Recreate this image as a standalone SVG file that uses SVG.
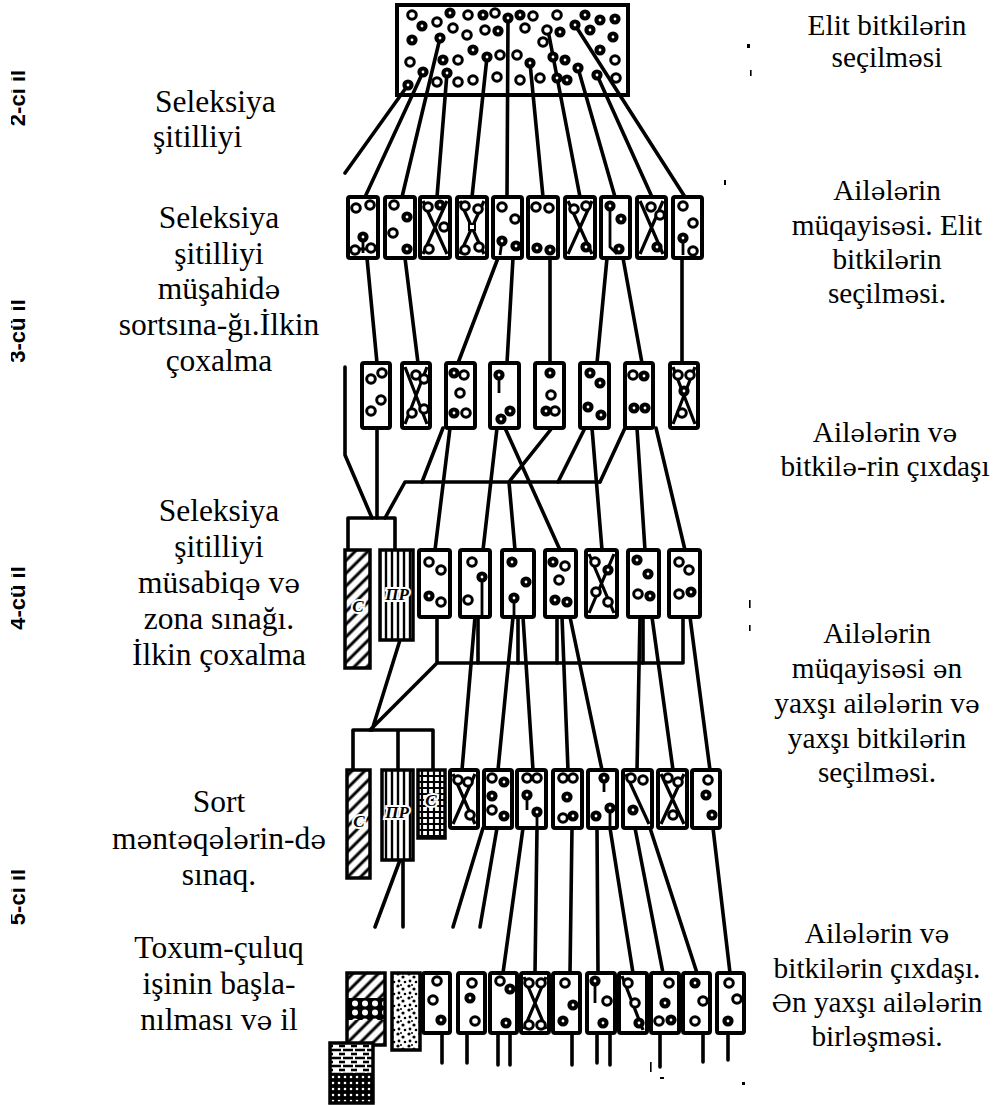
<svg xmlns="http://www.w3.org/2000/svg" width="1001" height="1105" viewBox="0 0 1001 1105">
<defs>
<style>
.ln{fill:none;stroke:#000;stroke-width:3.6;stroke-linecap:round;stroke-linejoin:round}
.bx{fill:#fff;stroke:#000;stroke-width:4}
.sp{stroke:#000;stroke-width:3.5}
.xx{fill:none;stroke:#000;stroke-width:3.2}
.st{fill:none;stroke:#000;stroke-width:2.8}
.tl{font-family:"Liberation Serif","Times New Roman","DejaVu Serif",serif;font-size:31.5px;text-anchor:middle;fill:#000}
.tr{font-family:"Liberation Serif","Times New Roman","DejaVu Serif",serif;font-size:29.3px;text-anchor:middle;fill:#000}
.e{font-family:"DejaVu Serif",serif;font-size:0.85em}
.yr{font-family:"Liberation Sans",Arial,sans-serif;font-size:22px;font-weight:bold;text-anchor:middle;fill:#000}
.mk{font-family:"Liberation Serif","Times New Roman",serif;font-style:italic;font-weight:bold;font-size:17px;text-anchor:middle;fill:#000;stroke:#fff;stroke-width:4;paint-order:stroke}
</style>
<!-- seedling marks -->
<symbol id="o" overflow="visible"><circle r="4.3" fill="#fff" stroke="#000" stroke-width="3"/></symbol>
<symbol id="d" overflow="visible"><circle r="5.6" fill="#000"/><circle r="1.4" fill="#fff"/></symbol>
<!-- fills of the standard / check plots -->
<pattern id="hatch" patternUnits="userSpaceOnUse" width="9" height="9" patternTransform="rotate(45)"><rect width="9" height="9" fill="#fff"/><line x1="2" y1="0" x2="2" y2="9" stroke="#000" stroke-width="3"/></pattern>
<pattern id="vstripe" patternUnits="userSpaceOnUse" width="6" height="6"><rect width="6" height="6" fill="#fff"/><line x1="2" y1="0" x2="2" y2="6" stroke="#000" stroke-width="2.4"/></pattern>
<pattern id="grid" patternUnits="userSpaceOnUse" width="6" height="6"><rect width="6" height="6" fill="#fff"/><path d="M2,0V6M0,2H6" stroke="#000" stroke-width="2.2"/></pattern>
<pattern id="ring" patternUnits="userSpaceOnUse" width="10" height="9"><rect width="10" height="9" fill="#000"/><circle cx="5" cy="4.5" r="3" fill="#fff"/></pattern>
<pattern id="brick" patternUnits="userSpaceOnUse" width="12" height="8"><rect width="12" height="8" fill="#fff"/><path d="M0,2H5M7,2H12M3,6H9" stroke="#000" stroke-width="2.4"/></pattern>
<pattern id="dots" patternUnits="userSpaceOnUse" width="6" height="6"><rect width="6" height="6" fill="#000"/><circle cx="3" cy="3" r="1.3" fill="#fff"/></pattern>
<pattern id="speck" patternUnits="userSpaceOnUse" width="11" height="12"><rect width="11" height="12" fill="#fff"/><circle cx="2" cy="2" r="1.6" fill="#000"/><circle cx="7" cy="5" r="1.6" fill="#000"/><circle cx="3" cy="9" r="1.4" fill="#000"/><circle cx="9" cy="10" r="1.3" fill="#000"/><circle cx="5" cy="1" r="1" fill="#000"/></pattern>
<clipPath id="yearClip"><rect x="11" y="0" width="40" height="1105"/></clipPath>
<clipPath id="lastClip"><rect x="0" y="900" width="340" height="131"/></clipPath>
</defs>
<rect width="1001" height="1105" fill="#fff"/>

<!-- year labels -->
<g id="years" clip-path="url(#yearClip)">
<text class="yr" transform="translate(25,98) rotate(-90)">2-ci il</text>
<text class="yr" transform="translate(25,331) rotate(-90)">3-cü il</text>
<text class="yr" transform="translate(25,598) rotate(-90)">4-cü il</text>
<text class="yr" transform="translate(25,897) rotate(-90)">5-ci il</text>
</g>

<!-- stage names, left column -->
<g id="stage-names">
<text class="tl" x="155" y="112" style="text-anchor:start">Seleksiya</text>
<text class="tl" x="153" y="147" style="text-anchor:start">şitilliyi</text>
<text class="tl" x="219" y="228">Seleksiya</text>
<text class="tl" x="219" y="264">şitilliyi</text>
<text class="tl" x="219" y="299">müşahid<tspan class="e">ə</tspan></text>
<text class="tl" x="219" y="335">sortsına-ğı.İlkin</text>
<text class="tl" x="219" y="371">çoxalma</text>
<text class="tl" x="219" y="521">Seleksiya</text>
<text class="tl" x="219" y="557">şitilliyi</text>
<text class="tl" x="219" y="593">müsabiq<tspan class="e">ə</tspan> v<tspan class="e">ə</tspan></text>
<text class="tl" x="219" y="629">zona sınağı.</text>
<text class="tl" x="219" y="665">İlkin çoxalma</text>
<text class="tl" x="219" y="812">Sort</text>
<text class="tl" x="219" y="849">m<tspan class="e">ə</tspan>nt<tspan class="e">ə</tspan>q<tspan class="e">ə</tspan>l<tspan class="e">ə</tspan>rin-d<tspan class="e">ə</tspan></text>
<text class="tl" x="219" y="885">sınaq.</text>
<g clip-path="url(#lastClip)">
<text class="tl" x="219" y="958">Toxum-çuluq</text>
<text class="tl" x="219" y="994">işinin başla-</text>
<text class="tl" x="219" y="1030">nılması v<tspan class="e">ə</tspan> il</text>
</g>
</g>

<!-- work done, right column -->
<g id="work-notes">
<text class="tr" x="887" y="35">Elit bitkil<tspan class="e">ə</tspan>rin</text>
<text class="tr" x="887" y="67">seçilm<tspan class="e">ə</tspan>si</text>
<text class="tr" x="887" y="200">Ail<tspan class="e">ə</tspan>l<tspan class="e">ə</tspan>rin</text>
<text class="tr" x="887" y="235">müqayis<tspan class="e">ə</tspan>si. Elit</text>
<text class="tr" x="887" y="269">bitkil<tspan class="e">ə</tspan>rin</text>
<text class="tr" x="887" y="303">seçilm<tspan class="e">ə</tspan>si.</text>
<text class="tr" x="885" y="442">Ail<tspan class="e">ə</tspan>l<tspan class="e">ə</tspan>rin v<tspan class="e">ə</tspan></text>
<text class="tr" x="885" y="476">bitkil<tspan class="e">ə</tspan>-rin çıxdaşı</text>
<text class="tr" x="877" y="643">Ail<tspan class="e">ə</tspan>l<tspan class="e">ə</tspan>rin</text>
<text class="tr" x="877" y="678">müqayis<tspan class="e">ə</tspan>si <tspan class="e">ə</tspan>n</text>
<text class="tr" x="877" y="713">yaxşı ail<tspan class="e">ə</tspan>l<tspan class="e">ə</tspan>rin v<tspan class="e">ə</tspan></text>
<text class="tr" x="877" y="748">yaxşı bitkil<tspan class="e">ə</tspan>rin</text>
<text class="tr" x="877" y="782">seçilm<tspan class="e">ə</tspan>si.</text>
<text class="tr" x="877" y="943">Ail<tspan class="e">ə</tspan>l<tspan class="e">ə</tspan>rin v<tspan class="e">ə</tspan></text>
<text class="tr" x="877" y="978">bitkil<tspan class="e">ə</tspan>rin çıxdaşı.</text>
<text class="tr" x="877" y="1012"><tspan class="e">Ə</tspan>n yaxşı ail<tspan class="e">ə</tspan>l<tspan class="e">ə</tspan>rin</text>
<text class="tr" x="877" y="1046">birl<tspan class="e">ə</tspan>şm<tspan class="e">ə</tspan>si.</text>
</g>

<!-- elite plant field -->
<g id="elite-field">
<rect x="397" y="5" width="231" height="90" class="bx"/>
</g>

<!-- connectors -->
<g id="connectors" class="ln">
<!-- field to families -->
<path d="M408,85L345,173M423,72L365,197M440,38L402,197M447,73L437,197M487,57L472,197M508,18L507,197M530,63L543,197M548,30L580,197M578,68L615,197M597,75L652,197M575,25L685,197"/>
<!-- first families to second -->
<path d="M367,258L377,363M405,258L418,363M498,258L458,363M513,258L507,363M550,258L550,363M607,258L597,363M623,258L642,363M682,258L682,363"/>
<path d="M345,367V455L372,518"/>
<!-- second families to competitive plots -->
<path d="M377,428V518M443,428L422,482M450,428L435,550M497,428L483,550M505,428L560,550M552,428L509,482L515,550M585,428L558,482M592,428L602,550M625,428L600,482M637,428L645,550M656,428L685,550"/>
<path d="M385,518L405,482H600"/>
<path d="M348,550V518H395V550"/>
<!-- competitive plots to station trials -->
<path d="M437,617V663H683V617M437,663L370,730M400,640L372,730"/>
<path d="M478,617V663M518,617V663M557,617V663M643,617V663"/>
<path d="M475,617L462,770M513,617L498,770M523,617L533,770M562,617L568,770M570,617L602,770M640,617L637,770M652,617L673,770M690,617L710,770"/>
<path d="M353,770V730H433V770M398,730V770"/>
<!-- station trials to seed plots -->
<path d="M400,860L375,927M403,860L403,927M483,828L453,927M497,828L480,927"/>
<path d="M523,828L503,973M537,828L535,973M572,828L570,973M597,828L598,973M610,828L633,973M635,828L663,973M650,828L697,973M713,828L730,973"/>
<!-- seed plot stems -->
<path d="M442,1033V1063M467,1033V1063M498,1033V1065M510,1033V1065M572,1033V1065M597,1033V1063M610,1033V1065M660,1033V1067M703,1033V1062M728,1033V1060"/>
</g>

<!-- seedlings in the elite field -->
<g id="elite-plants">
<use href="#o" x="412" y="15"/><use href="#d" x="422" y="26"/><use href="#o" x="437" y="22"/><use href="#d" x="450" y="13"/><use href="#o" x="468" y="15"/><use href="#d" x="483" y="15"/><use href="#o" x="495" y="13"/><use href="#d" x="520" y="15"/><use href="#o" x="533" y="16"/><use href="#o" x="557" y="15"/><use href="#d" x="585" y="15"/><use href="#d" x="600" y="20"/><use href="#d" x="615" y="19"/>
<use href="#d" x="412" y="40"/><use href="#d" x="440" y="38"/><use href="#o" x="453" y="28"/><use href="#o" x="467" y="35"/><use href="#o" x="485" y="30"/><use href="#d" x="498" y="31"/><use href="#d" x="508" y="18"/><use href="#o" x="525" y="28"/><use href="#o" x="547" y="30"/><use href="#d" x="560" y="32"/><use href="#d" x="575" y="25"/><use href="#d" x="590" y="30"/><use href="#d" x="613" y="37"/>
<use href="#o" x="410" y="62"/><use href="#d" x="443" y="60"/><use href="#o" x="458" y="60"/><use href="#d" x="473" y="50"/><use href="#d" x="487" y="57"/><use href="#o" x="500" y="55"/><use href="#o" x="517" y="55"/><use href="#d" x="530" y="63"/><use href="#o" x="543" y="42"/><use href="#d" x="553" y="57"/><use href="#d" x="565" y="60"/><use href="#d" x="578" y="68"/><use href="#d" x="600" y="50"/><use href="#o" x="615" y="60"/>
<use href="#d" x="408" y="85"/><use href="#d" x="423" y="72"/><use href="#o" x="437" y="82"/><use href="#d" x="447" y="73"/><use href="#o" x="458" y="82"/><use href="#o" x="473" y="80"/><use href="#o" x="497" y="77"/><use href="#o" x="520" y="80"/><use href="#o" x="540" y="78"/><use href="#d" x="557" y="78"/><use href="#d" x="567" y="80"/><use href="#d" x="597" y="75"/><use href="#o" x="616" y="78"/>
</g>

<!-- families, second year -->
<g id="row1-f1" transform="translate(348,197)"><rect class="bx" width="30" height="61" rx="2"/><path class="st" d="M15,40V56M7,52H23"/><use href="#o" x="8" y="11"/><use href="#o" x="22" y="8"/><use href="#d" x="15" y="40"/><use href="#o" x="7" y="53"/><use href="#o" x="23" y="51"/></g>
<g id="row1-f2" transform="translate(385,197)"><rect class="bx" width="30" height="61" rx="2"/><use href="#o" x="9" y="8"/><use href="#d" x="22" y="20"/><use href="#o" x="8" y="36"/><use href="#d" x="22" y="52"/></g>
<g id="row1-f3" transform="translate(420,197)"><rect class="bx" width="30" height="61" rx="2"/><path class="xx" d="M3,4L27,57M27,4L3,57"/><use href="#o" x="8" y="10"/><use href="#d" x="20" y="8"/><use href="#o" x="24" y="30"/><use href="#o" x="9" y="52"/></g>
<g id="row1-f4" transform="translate(457,197)"><rect class="bx" width="30" height="61" rx="2"/><path class="xx" d="M3,4L27,57M27,4L3,57"/><rect x="12" y="27" width="6" height="6" fill="#fff" stroke="#000" stroke-width="2"/><use href="#o" x="8" y="9"/><use href="#o" x="21" y="12"/><use href="#o" x="8" y="53"/><use href="#o" x="22" y="50"/></g>
<g id="row1-f5" transform="translate(493,197)"><rect class="bx" width="29" height="61" rx="2"/><path class="st" d="M9,44L7,58"/><use href="#o" x="9" y="10"/><use href="#o" x="22" y="22"/><use href="#d" x="9" y="44"/><use href="#d" x="23" y="49"/></g>
<g id="row1-f6" transform="translate(528,197)"><rect class="bx" width="30" height="61" rx="2"/><use href="#o" x="8" y="10"/><use href="#o" x="21" y="11"/><use href="#d" x="9" y="51"/><use href="#d" x="22" y="53"/></g>
<g id="row1-f7" transform="translate(565,197)"><rect class="bx" width="30" height="61" rx="2"/><path class="xx" d="M3,4L27,57M27,4L3,57"/><use href="#o" x="9" y="12"/><use href="#o" x="21" y="9"/><use href="#d" x="21" y="50"/></g>
<g id="row1-f8" transform="translate(601,197)"><rect class="bx" width="29" height="61" rx="2"/><path class="st" d="M9,9V50L16,57"/><use href="#d" x="9" y="9"/><use href="#d" x="20" y="22"/><use href="#d" x="18" y="52"/></g>
<g id="row1-f9" transform="translate(637,197)"><rect class="bx" width="29" height="61" rx="2"/><path class="xx" d="M3,4L26,57M26,4L3,57"/><use href="#o" x="14" y="10"/><use href="#o" x="23" y="18"/><use href="#d" x="20" y="50"/></g>
<g id="row1-f10" transform="translate(673,197)"><rect class="bx" width="29" height="61" rx="2"/><path class="st" d="M10,41V58"/><use href="#o" x="10" y="9"/><use href="#o" x="20" y="26"/><use href="#d" x="10" y="41"/><use href="#o" x="20" y="54"/></g>

<!-- families, third year -->
<g id="row2-f1" transform="translate(362,363)"><rect class="bx" width="28" height="65" rx="2"/><use href="#o" x="20" y="10"/><use href="#o" x="9" y="16"/><use href="#o" x="19" y="37"/><use href="#o" x="9" y="48"/></g>
<g id="row2-f2" transform="translate(402,363)"><rect class="bx" width="28" height="65" rx="2"/><path class="xx" d="M3,4L25,61M25,4L3,61"/><use href="#o" x="14" y="12"/><use href="#o" x="22" y="16"/><use href="#o" x="10" y="50"/><use href="#o" x="22" y="46"/></g>
<g id="row2-f3" transform="translate(446,363)"><rect class="bx" width="29" height="65" rx="2"/><use href="#d" x="8" y="10"/><use href="#o" x="18" y="12"/><use href="#o" x="14" y="30"/><use href="#d" x="8" y="50"/><use href="#o" x="20" y="50"/></g>
<g id="row2-f4" transform="translate(490,363)"><rect class="bx" width="29" height="65" rx="2"/><path class="st" d="M9,12V30"/><use href="#d" x="9" y="12"/><use href="#d" x="20" y="48"/><use href="#d" x="11" y="56"/></g>
<g id="row2-f5" transform="translate(535,363)"><rect class="bx" width="29" height="65" rx="2"/><use href="#d" x="15" y="10"/><use href="#o" x="16" y="32"/><use href="#d" x="11" y="48"/><use href="#o" x="20" y="48"/></g>
<g id="row2-f6" transform="translate(580,363)"><rect class="bx" width="29" height="65" rx="2"/><use href="#d" x="10" y="10"/><use href="#d" x="20" y="20"/><use href="#d" x="8" y="44"/><use href="#d" x="21" y="52"/></g>
<g id="row2-f7" transform="translate(625,363)"><rect class="bx" width="28" height="65" rx="2"/><use href="#o" x="8" y="12"/><use href="#d" x="19" y="13"/><use href="#d" x="9" y="45"/><use href="#d" x="20" y="45"/></g>
<g id="row2-f8" transform="translate(670,363)"><rect class="bx" width="28" height="65" rx="2"/><path class="xx" d="M3,4L25,61M25,4L3,61"/><use href="#o" x="8" y="12"/><use href="#o" x="20" y="12"/><use href="#d" x="14" y="28"/><use href="#o" x="12" y="50"/></g>

<!-- standard and check plots, fourth year -->
<g id="row3-standard"><rect x="345" y="550" width="25" height="118" fill="url(#hatch)" class="sp"/><text class="mk" x="358" y="612">С</text></g>
<g id="row3-check"><rect x="380" y="550" width="33" height="90" fill="url(#vstripe)" class="sp"/><text class="mk" x="397" y="600">ПР</text></g>

<!-- families, fourth year -->
<g id="row3-f1" transform="translate(419,550)"><rect class="bx" width="31" height="67" rx="2"/><use href="#o" x="10" y="12"/><use href="#o" x="22" y="20"/><use href="#d" x="10" y="46"/><use href="#o" x="22" y="52"/></g>
<g id="row3-f2" transform="translate(460,550)"><rect class="bx" width="30" height="67" rx="2"/><path class="st" d="M22,27V67"/><use href="#o" x="12" y="12"/><use href="#d" x="22" y="27"/><use href="#o" x="8" y="50"/></g>
<g id="row3-f3" transform="translate(502,550)"><rect class="bx" width="32" height="67" rx="2"/><path class="st" d="M12,48V67"/><use href="#d" x="10" y="12"/><use href="#d" x="24" y="32"/><use href="#d" x="12" y="48"/></g>
<g id="row3-f4" transform="translate(545,550)"><rect class="bx" width="31" height="67" rx="2"/><use href="#d" x="8" y="12"/><use href="#o" x="20" y="16"/><use href="#o" x="14" y="30"/><use href="#d" x="10" y="50"/><use href="#d" x="22" y="52"/></g>
<g id="row3-f5" transform="translate(586,550)"><rect class="bx" width="31" height="67" rx="2"/><path class="xx" d="M3,4L28,63M28,4L3,63"/><use href="#o" x="9" y="12"/><use href="#d" x="22" y="20"/><use href="#o" x="10" y="42"/><use href="#o" x="22" y="52"/></g>
<g id="row3-f6" transform="translate(628,550)"><rect class="bx" width="31" height="67" rx="2"/><use href="#d" x="9" y="10"/><use href="#d" x="20" y="24"/><use href="#o" x="10" y="44"/><use href="#d" x="22" y="46"/></g>
<g id="row3-f7" transform="translate(669,550)"><rect class="bx" width="31" height="67" rx="2"/><use href="#o" x="10" y="12"/><use href="#o" x="20" y="20"/><use href="#o" x="10" y="44"/><use href="#d" x="22" y="42"/></g>

<!-- standard and check plots, fifth year -->
<g id="row4-standard"><rect x="347" y="770" width="23" height="108" fill="url(#hatch)" class="sp"/><text class="mk" x="359" y="827">С</text></g>
<g id="row4-check"><rect x="382" y="770" width="31" height="90" fill="url(#vstripe)" class="sp"/><text class="mk" x="397" y="818">ПР</text></g>
<g id="row4-extra"><rect x="418" y="770" width="27" height="68" fill="url(#grid)" class="sp"/><text class="mk" x="431" y="806">С</text></g>

<!-- families, fifth year -->
<g id="row4-f1" transform="translate(450,770)"><rect class="bx" width="28" height="58" rx="2"/><path class="xx" d="M3,4L25,54M25,4L3,54"/><use href="#o" x="8" y="10"/><use href="#o" x="18" y="12"/><use href="#o" x="20" y="45"/></g>
<g id="row4-f2" transform="translate(484,770)"><rect class="bx" width="28" height="58" rx="2"/><use href="#o" x="8" y="8"/><use href="#d" x="20" y="12"/><use href="#d" x="8" y="26"/><use href="#o" x="8" y="40"/><use href="#d" x="20" y="46"/></g>
<g id="row4-f3" transform="translate(517,770)"><rect class="bx" width="29" height="58" rx="2"/><path class="st" d="M10,25V40M20,42V58"/><use href="#o" x="10" y="8"/><use href="#o" x="20" y="8"/><use href="#d" x="10" y="25"/><use href="#d" x="20" y="42"/></g>
<g id="row4-f4" transform="translate(553,770)"><rect class="bx" width="29" height="58" rx="2"/><use href="#o" x="10" y="8"/><use href="#o" x="20" y="8"/><use href="#d" x="14" y="27"/><use href="#o" x="10" y="48"/><use href="#d" x="20" y="46"/></g>
<g id="row4-f5" transform="translate(588,770)"><rect class="bx" width="29" height="58" rx="2"/><path class="st" d="M16,8V22M22,38V58"/><use href="#d" x="16" y="8"/><use href="#d" x="22" y="38"/><use href="#d" x="8" y="46"/></g>
<g id="row4-f6" transform="translate(623,770)"><rect class="bx" width="29" height="58" rx="2"/><path class="xx" d="M3,4L26,54"/><use href="#o" x="8" y="8"/><use href="#o" x="20" y="10"/><use href="#d" x="10" y="40"/></g>
<g id="row4-f7" transform="translate(658,770)"><rect class="bx" width="29" height="58" rx="2"/><path class="xx" d="M3,4L26,54M26,4L3,54"/><use href="#o" x="10" y="8"/><use href="#o" x="20" y="12"/><use href="#o" x="15" y="45"/></g>
<g id="row4-f8" transform="translate(692,770)"><rect class="bx" width="28" height="58" rx="2"/><use href="#o" x="16" y="10"/><use href="#d" x="14" y="25"/><use href="#d" x="20" y="45"/></g>

<!-- standard, check and seed plots, sixth year -->
<g id="row5-standard"><rect x="347" y="973" width="38" height="25" fill="url(#hatch)"/><rect x="347" y="998" width="38" height="22" fill="url(#ring)"/><rect x="347" y="1020" width="38" height="25" fill="url(#hatch)"/><rect x="347" y="973" width="38" height="72" fill="none" class="sp"/></g>
<g id="row5-base"><rect x="330" y="1043" width="43" height="30" fill="url(#brick)"/><rect x="330" y="1073" width="43" height="30" fill="url(#dots)"/><rect x="330" y="1043" width="43" height="60" fill="none" class="sp"/></g>
<g id="row5-check"><rect x="392" y="973" width="28" height="77" fill="url(#speck)" class="sp"/></g>

<g id="row5-f1" transform="translate(423,973)"><rect class="bx" width="27" height="60" rx="2"/><use href="#o" x="14" y="8"/><use href="#o" x="10" y="27"/><use href="#d" x="18" y="47"/></g>
<g id="row5-f2" transform="translate(458,973)"><rect class="bx" width="27" height="60" rx="2"/><use href="#o" x="14" y="10"/><use href="#d" x="12" y="25"/><use href="#o" x="17" y="48"/></g>
<g id="row5-f3" transform="translate(490,973)"><rect class="bx" width="27" height="60" rx="2"/><use href="#o" x="10" y="8"/><use href="#d" x="20" y="16"/><use href="#d" x="16" y="50"/></g>
<g id="row5-f4" transform="translate(521,973)"><rect class="bx" width="28" height="60" rx="2"/><path class="xx" d="M3,4L25,56M25,4L3,56"/><use href="#o" x="8" y="10"/><use href="#o" x="20" y="10"/><use href="#o" x="8" y="52"/><use href="#o" x="20" y="52"/></g>
<g id="row5-f5" transform="translate(553,973)"><rect class="bx" width="27" height="60" rx="2"/><use href="#o" x="12" y="10"/><use href="#d" x="20" y="32"/><use href="#d" x="10" y="48"/></g>
<g id="row5-f6" transform="translate(587,973)"><rect class="bx" width="28" height="60" rx="2"/><path class="st" d="M8,8V30"/><use href="#d" x="8" y="8"/><use href="#o" x="20" y="28"/><use href="#d" x="16" y="50"/></g>
<g id="row5-f7" transform="translate(619,973)"><rect class="bx" width="28" height="60" rx="2"/><path class="xx" d="M3,3L24,57"/><use href="#o" x="9" y="10"/><use href="#o" x="16" y="30"/><use href="#d" x="20" y="50"/></g>
<g id="row5-f8" transform="translate(651,973)"><rect class="bx" width="28" height="60" rx="2"/><use href="#o" x="18" y="10"/><use href="#d" x="14" y="30"/><use href="#d" x="20" y="47"/><use href="#o" x="8" y="48"/></g>
<g id="row5-f9" transform="translate(683,973)"><rect class="bx" width="27" height="60" rx="2"/><use href="#d" x="12" y="10"/><use href="#o" x="20" y="28"/><use href="#o" x="12" y="48"/></g>
<g id="row5-f10" transform="translate(717,973)"><rect class="bx" width="27" height="60" rx="2"/><use href="#o" x="12" y="10"/><use href="#o" x="20" y="26"/><use href="#d" x="11" y="48"/></g>

<!-- stray print marks -->
<g id="marks" fill="#000">
<rect x="747" y="44" width="3" height="4"/><rect x="750" y="70" width="1.6" height="6"/>
<rect x="724" y="180" width="2" height="5"/><rect x="749" y="600" width="1.6" height="8"/><rect x="749" y="625" width="1.6" height="6"/>
<rect x="742" y="1082" width="3" height="3"/><rect x="660" y="1077" width="4" height="2"/><rect x="650" y="1062" width="1.6" height="10"/>
</g>
</svg>
